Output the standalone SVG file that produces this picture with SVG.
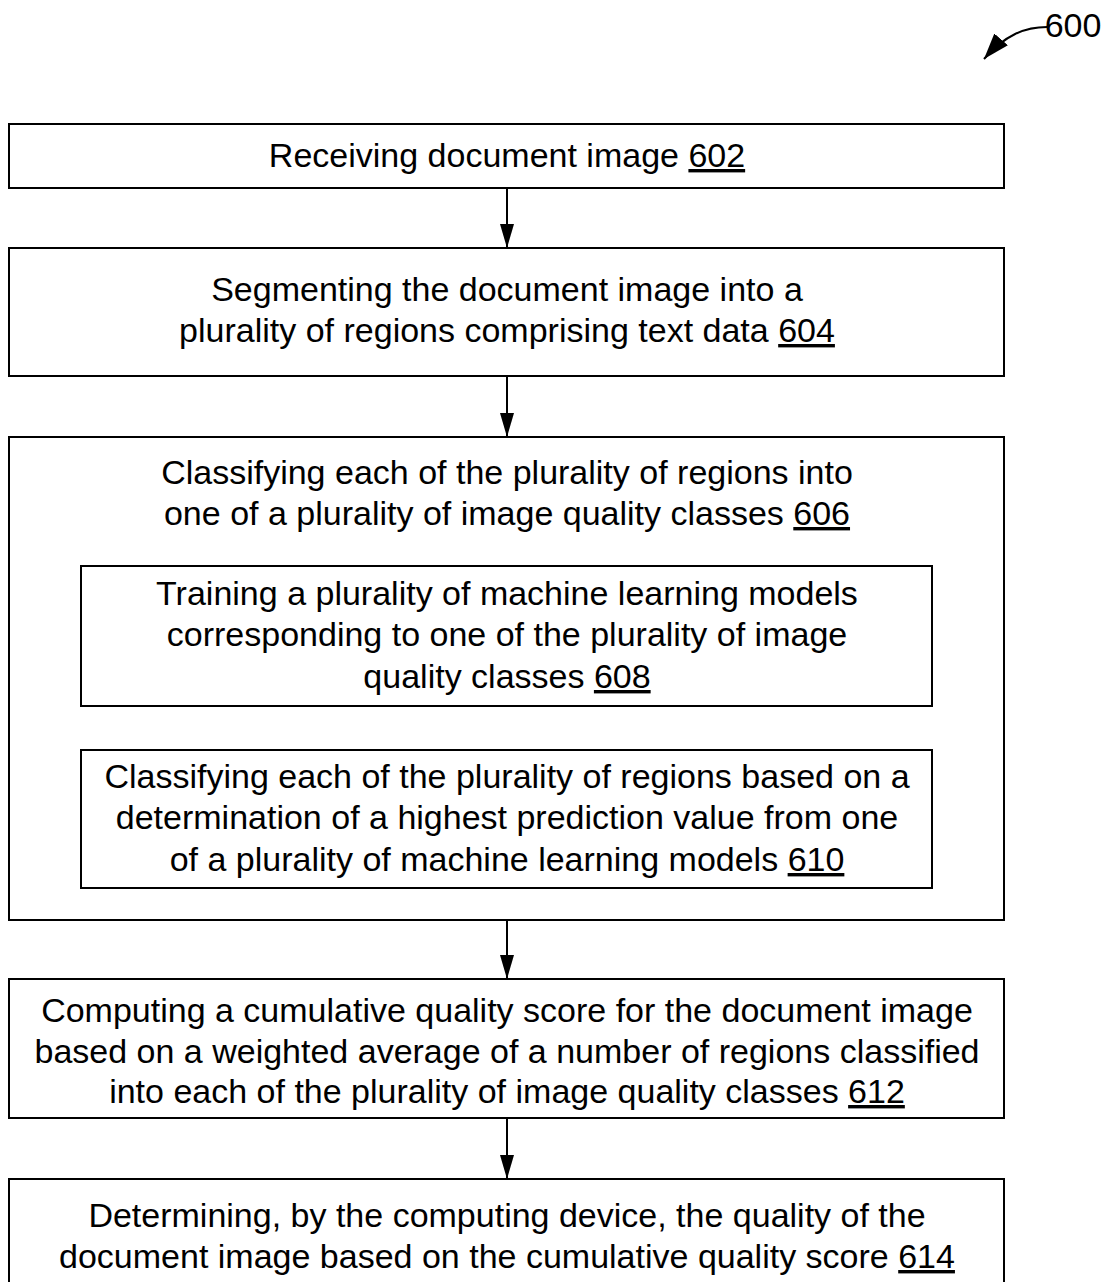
<svg xmlns="http://www.w3.org/2000/svg" width="1114" height="1282" viewBox="0 0 1114 1282">
<style>
.box{fill:#fff;stroke:#000;stroke-width:2}
.t{font-family:"Liberation Sans",Arial,sans-serif;font-size:34px;fill:#000;text-anchor:middle}
.u{text-decoration:underline}
.c{stroke:#000;stroke-width:2;fill:none}
</style>
<defs>
<marker id="ah" viewBox="0 0 24 14" refX="24" refY="7" markerWidth="24" markerHeight="14" markerUnits="userSpaceOnUse" orient="auto">
<path d="M0,0 L24,7 L0,14 Z" fill="#000"/>
</marker>
<marker id="ah2" viewBox="0 0 26 18" refX="26" refY="9" markerWidth="26" markerHeight="18" markerUnits="userSpaceOnUse" orient="auto">
<path d="M0,0 L26,9 L0,18 Z" fill="#000"/>
</marker>
</defs>
<rect width="1114" height="1282" fill="#fff"/>
<g id="label600">
<text class="t" x="1073" y="37">600</text>
<path class="c" d="M1047,27 C1025,27 1005,35 984,59" marker-end="url(#ah2)"/>
</g>
<g id="n602">
<rect class="box" x="9" y="124" width="995" height="64"/>
<text class="t" x="507" y="167">Receiving document image <tspan class="u">602</tspan></text>
</g>
<g id="n604">
<rect class="box" x="9" y="248" width="995" height="128"/>
<text class="t" x="507" y="301">Segmenting the document image into a</text>
<text class="t" x="507" y="342">plurality of regions comprising text data <tspan class="u">604</tspan></text>
</g>
<g id="n606">
<rect class="box" x="9" y="437" width="995" height="483"/>
<text class="t" x="507" y="484">Classifying each of the plurality of regions into</text>
<text class="t" x="507" y="525">one of a plurality of image quality classes <tspan class="u">606</tspan></text>
</g>
<g id="n608">
<rect class="box" x="81" y="566" width="851" height="140"/>
<text class="t" x="507" y="605">Training a plurality of machine learning models</text>
<text class="t" x="507" y="646">corresponding to one of the plurality of image</text>
<text class="t" x="507" y="688">quality classes <tspan class="u">608</tspan></text>
</g>
<g id="n610">
<rect class="box" x="81" y="750" width="851" height="138"/>
<text class="t" x="507" y="788">Classifying each of the plurality of regions based on a</text>
<text class="t" x="507" y="829">determination of a highest prediction value from one</text>
<text class="t" x="507" y="871">of a plurality of machine learning models <tspan class="u">610</tspan></text>
</g>
<g id="n612">
<rect class="box" x="9" y="979" width="995" height="139"/>
<text class="t" x="507" y="1022">Computing a cumulative quality score for the document image</text>
<text class="t" x="507" y="1063">based on a weighted average of a number of regions classified</text>
<text class="t" x="507" y="1103">into each of the plurality of image quality classes <tspan class="u">612</tspan></text>
</g>
<g id="n614">
<rect class="box" x="9" y="1179" width="995" height="140"/>
<text class="t" x="507" y="1227">Determining, by the computing device, the quality of the</text>
<text class="t" x="507" y="1268">document image based on the cumulative quality score <tspan class="u">614</tspan></text>
</g>
<g id="connectors">
<line class="c" x1="507" y1="188" x2="507" y2="248" marker-end="url(#ah)"/>
<line class="c" x1="507" y1="376" x2="507" y2="437" marker-end="url(#ah)"/>
<line class="c" x1="507" y1="920" x2="507" y2="979" marker-end="url(#ah)"/>
<line class="c" x1="507" y1="1118" x2="507" y2="1179" marker-end="url(#ah)"/>
</g>
</svg>
